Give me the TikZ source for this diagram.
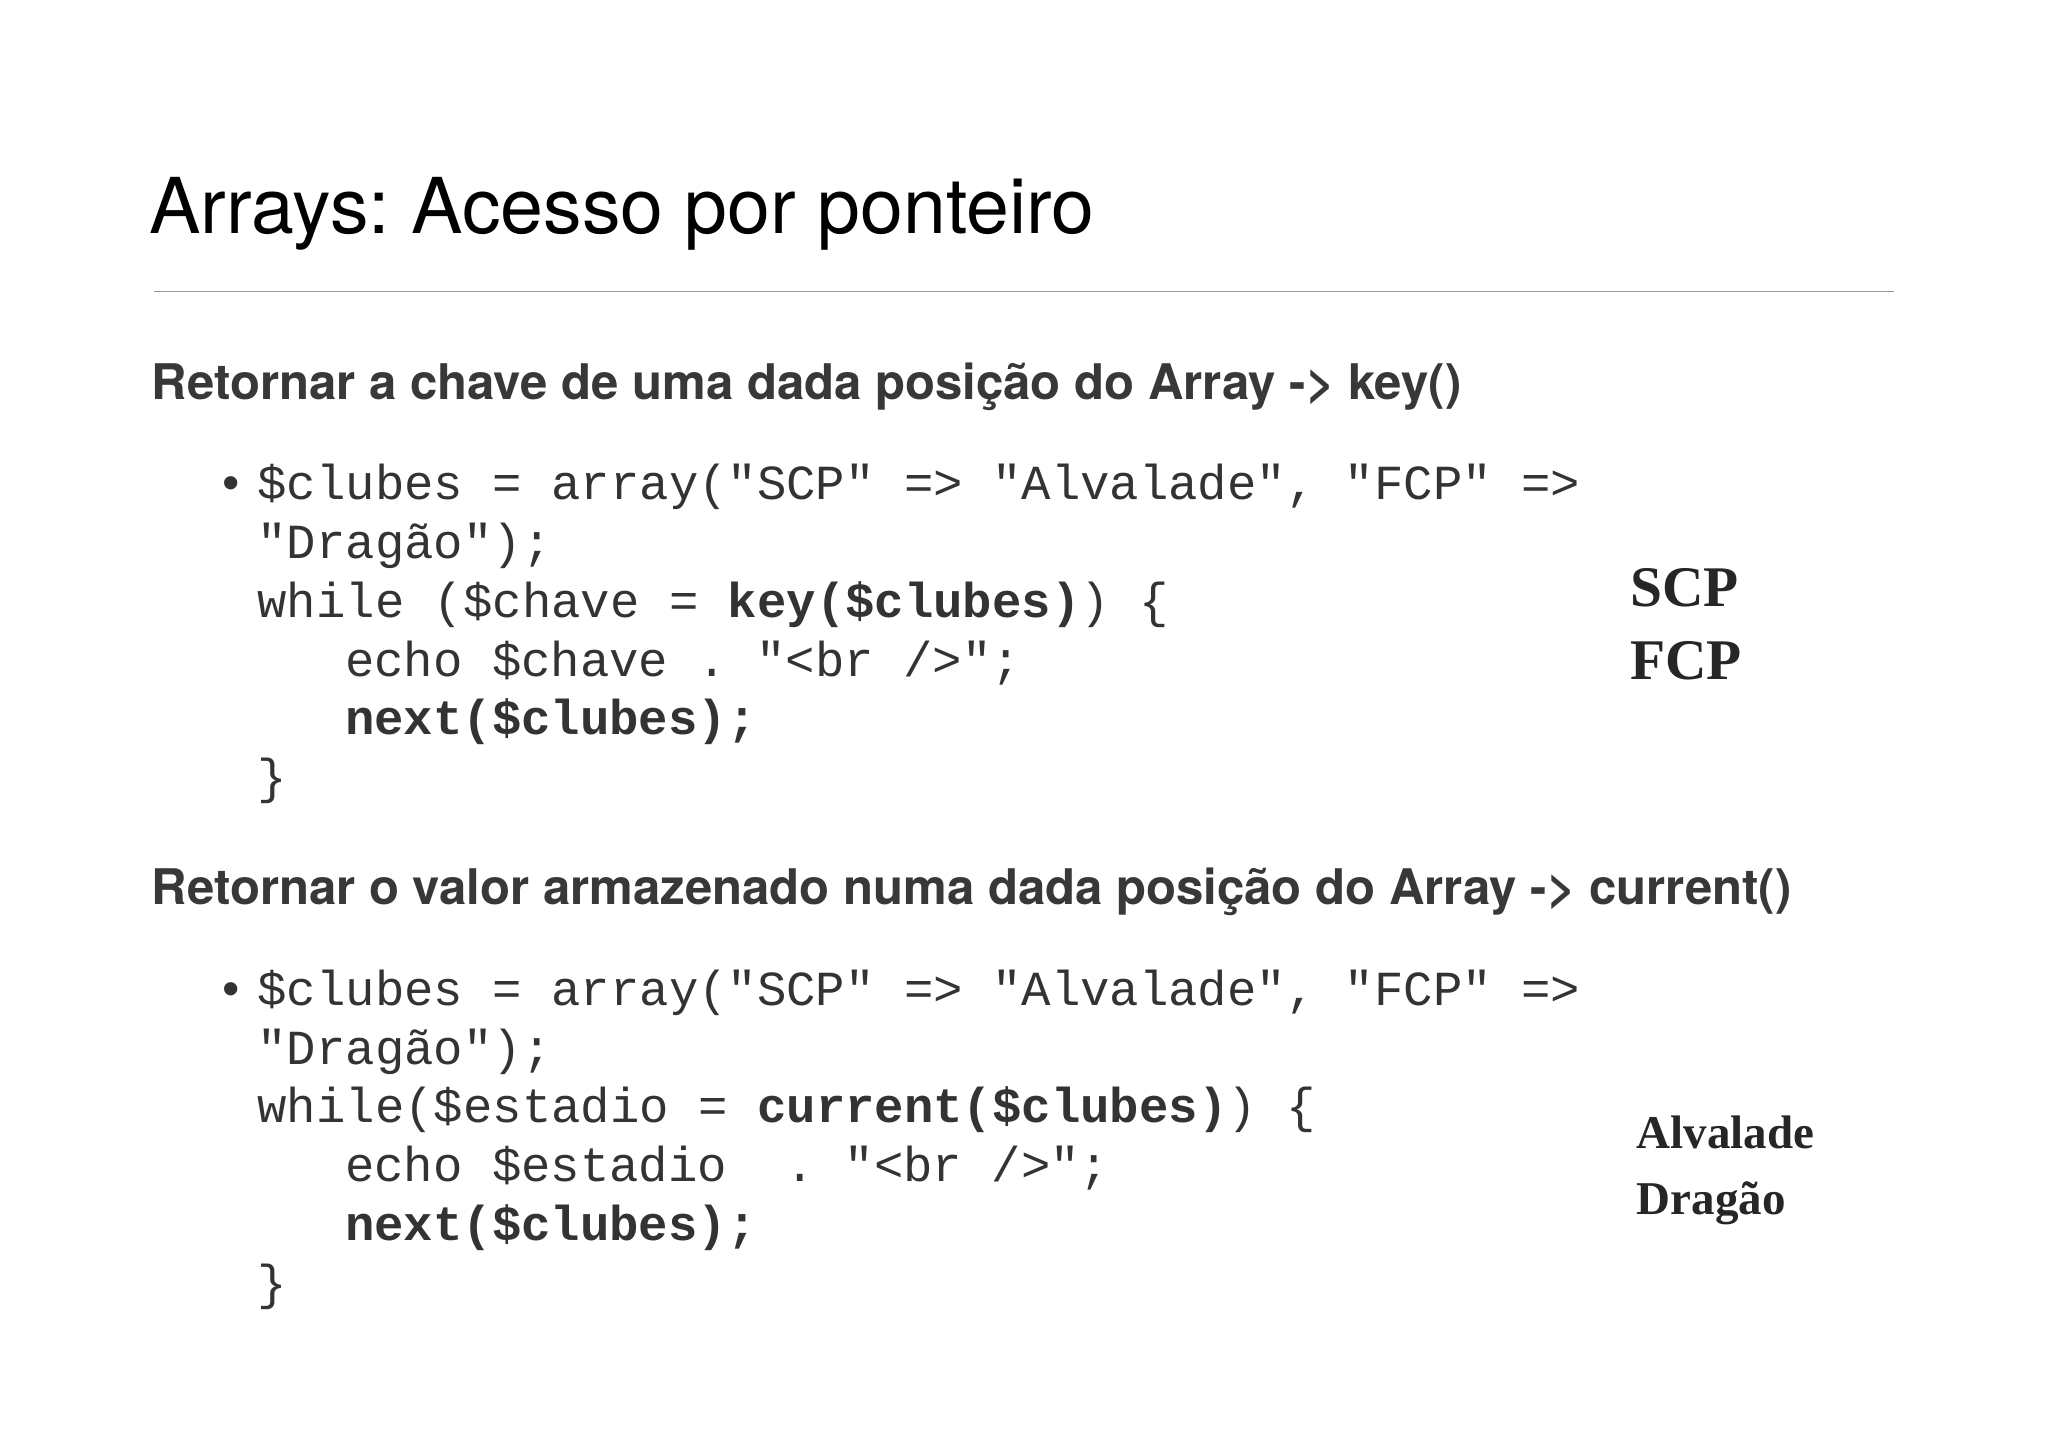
\documentclass[tikz,border=0pt]{standalone}
\usepackage{fontspec}
\setmainfont{TeX Gyre Heros}
\newfontfamily\codef{Liberation Mono}
\newfontfamily\outf{Liberation Serif}
\frenchspacing
\begin{document}
\begin{tikzpicture}[x=1pt,y=-1pt,
  code/.style={anchor=mid west,inner sep=0pt,text=black!80,font=\codef\fontsize{37.5}{40}\selectfont},
  head/.style={anchor=mid west,inner sep=0pt,text=black!78,font=\bfseries\fontsize{37.6}{40}\selectfont},
  outp/.style={anchor=mid west,inner sep=0pt,text=black!85,font=\outf\bfseries\fontsize{44}{48}\selectfont}]
\useasboundingbox (0,0) rectangle (1568,1107);
\node[anchor=mid west,inner sep=0pt,text=black,font=\fontsize{59}{62}\selectfont] (title) at (114,176) {Arrays: Acesso por ponteiro};
\coordinate (l1) at (118,223); \coordinate (l2) at (1450,223);
\draw[black!40,line width=1pt] (l1) -- (l2);
\node[head] (h1) at (116,303) {Retornar a chave de uma dada posição do Array -> key()};
\node[code,anchor=mid] (b1) at (177,380) {•};
\node[code] (c1) at (197,380) {\$clubes = array("SCP" => "Alvalade", "FCP" =>};
\node[code] (c2) at (197,425) {"Dragão");};
\node[code] (c3) at (197,470) {while (\$chave = \textbf{key(\$clubes)}) \{};
\node[code] (c4) at (264,515) {echo \$chave . "<br />";};
\node[code] (c5) at (264,560) {\textbf{next(\$clubes);}};
\node[code] (c6) at (197,605) {\}};
\node[outp] (o1) at (1248,462) {SCP};
\node[outp] (o2) at (1248,518) {FCP};
\node[head] (h2) at (116,690) {Retornar o valor armazenado numa dada posição do Array -> current()};
\node[code,anchor=mid] (b2) at (177,767) {•};
\node[code] (d1) at (197,767) {\$clubes = array("SCP" => "Alvalade", "FCP" =>};
\node[code] (d2) at (197,812) {"Dragão");};
\node[code] (d3) at (197,857) {while(\$estadio = \textbf{current(\$clubes)}) \{};
\node[code] (d4) at (264,902) {echo \$estadio\ \ . "<br />";};
\node[code] (d5) at (264,947) {\textbf{next(\$clubes);}};
\node[code] (d6) at (197,992) {\}};
\node[outp,font=\outf\bfseries\fontsize{36}{40}\selectfont] (o3) at (1253,877) {Alvalade};
\node[outp,font=\outf\bfseries\fontsize{36}{40}\selectfont] (o4) at (1253,927) {Dragão};
\end{tikzpicture}
\end{document}
